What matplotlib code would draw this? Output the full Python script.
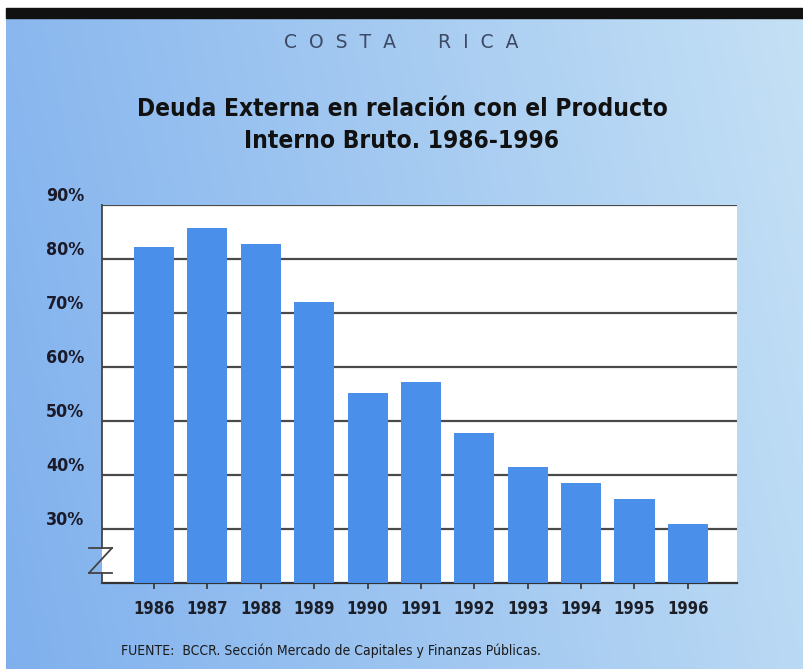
import numpy as np
import matplotlib
matplotlib.use("Agg")
import matplotlib.pyplot as plt
from matplotlib.lines import Line2D
from matplotlib.patches import Rectangle

# datos
years = ["1986", "1987", "1988", "1989", "1990", "1991",
         "1992", "1993", "1994", "1995", "1996"]
deuda_pib = [82.3, 85.8, 82.8, 72.1, 55.2, 57.3, 47.7, 41.5, 38.5, 35.5, 31.0]
y_ticks = [30, 40, 50, 60, 70, 80, 90]
y_labels = ["30%", "40%", "50%", "60%", "70%", "80%", "90%"]

NARROW = ["DejaVu Sans"]

fig = plt.figure(figsize=(8.04, 6.69), dpi=100)
fig.patch.set_facecolor("white")

# fondo degradado azul
bg = fig.add_axes([6 / 804, 0, 1 - 6 / 804, (669 - 17) / 669])
grad_x = np.linspace(0, 1, 256)[None, :]
grad_y = np.linspace(0, 1, 64)[:, None]
left_c = np.array([0.50, 0.69, 0.93])
right_c = np.array([0.77, 0.88, 0.96])
t = grad_x * 0.85 + grad_y * 0.15
img = left_c[None, None, :] * (1 - t[..., None]) + right_c[None, None, :] * t[..., None]
bg.imshow(img, aspect="auto", extent=[0, 1, 0, 1], origin="lower")
bg.set_xlim(0, 1)
bg.set_ylim(0, 1)
bg.axis("off")

# barra negra superior
fig.patches.append(Rectangle((6 / 804, 1 - 18 / 669), 1, 10 / 669,
                             transform=fig.transFigure, color="#111111", zorder=5))

# textos
fig.text(401 / 804, 1 - 42 / 669, "C  O  S  T  A       R  I  C  A", ha="center", va="center",
         fontsize=13.5, color="#3c4a66", family=NARROW)
fig.text(0.5, 1 - 125 / 669, "Deuda Externa en relación con el Producto\nInterno Bruto. 1986-1996",
         ha="center", va="center", fontsize=17.6, fontweight="bold", color="#111111",
         family=NARROW, fontstretch="condensed", linespacing=1.42)
fig.text(121 / 804, 1 - 651 / 669,
         "FUENTE:  BCCR. Sección Mercado de Capitales y Finanzas Públicas.",
         ha="left", va="center", fontsize=10, color="#1a1a1a", family=NARROW,
         fontstretch="condensed")

# grafico
ax = fig.add_axes([101.7 / 804, 1 - 583 / 669, (737 - 101.7) / 804, (583 - 205) / 669])
ax.set_facecolor("white")
x = np.arange(len(years))
ax.bar(x, [v - 20 for v in deuda_pib], bottom=20, width=0.75,
       color="#4a90ea", zorder=3)
for yv in y_ticks:
    ax.axhline(yv, color="#4a4a4a", lw=1.6, zorder=1)

ax.set_xlim(-0.98, 10.92)
ax.set_ylim(20, 90)
ax.set_xticks(x)
ax.set_xticklabels(years, fontsize=12, fontweight="bold", color="#1c1f28",
                   family=NARROW, fontstretch="condensed")
ax.set_yticks(y_ticks)
ax.set_yticklabels(y_labels, fontsize=12.8, fontweight="bold", color="#1a1a2a",
                   family=NARROW, fontstretch="condensed")
for lab in ax.get_yticklabels():
    lab.set_va("bottom")
    lab.set_ha("left")
ax.tick_params(axis="y", length=0, pad=40)
ax.tick_params(axis="x", length=4, width=1.2, color="#333333", pad=8, direction="out")

for side in ["top", "right", "left"]:
    ax.spines[side].set_visible(False)
ax.spines["bottom"].set_color("#333333")
ax.spines["bottom"].set_linewidth(1.6)

# eje izquierdo con corte en Z
h = 583 - 205
yb1 = (583 - 573) / h
yb2 = (583 - 548) / h
w = 737 - 101.7
zx0 = (89 - 101.7) / w
zx1 = (112 - 101.7) / w
for xs, ys in [([0, 0], [0, yb1]), ([0, 0], [yb2, 1]),
               ([zx0, zx1], [yb2, yb2]), ([zx1, zx0], [yb2, yb1]),
               ([zx0, zx1], [yb1, yb1])]:
    ax.add_line(Line2D(xs, ys, transform=ax.transAxes, color="#444444",
                       lw=1.3, clip_on=False, zorder=4))

fig.savefig("out.png", dpi=100)
